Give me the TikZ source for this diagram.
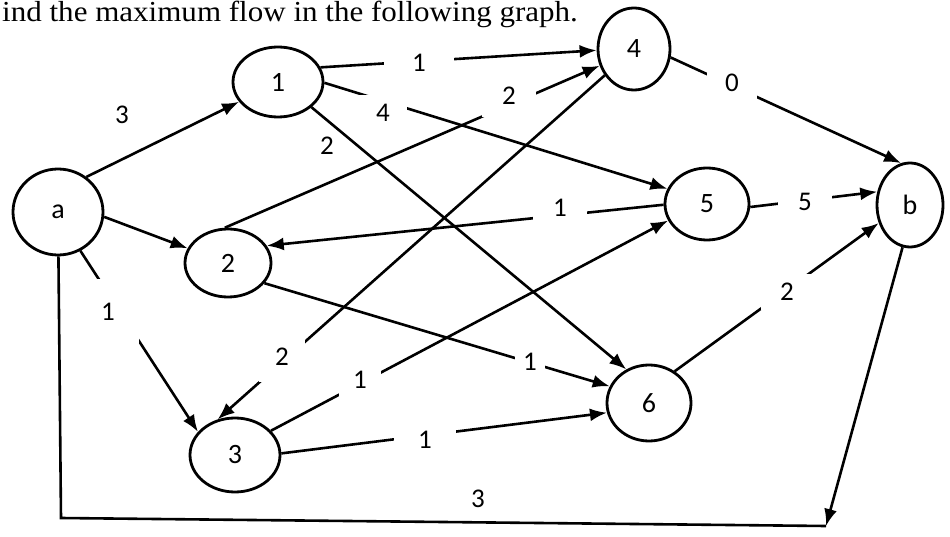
\documentclass[tikz,border=0pt]{standalone}
\usepackage{fontspec}
\setmainfont{Liberation Serif}
\newfontfamily\labfont{Carlito}
\usetikzlibrary{shapes.geometric,arrows.meta}
\begin{document}
\begin{tikzpicture}[x=1pt,y=-1pt,
  vert/.style={ellipse,draw,line width=2.8pt,inner sep=0pt,font=\labfont\fontsize{28}{28}\selectfont},
  edge/.style={line width=2.6pt},
  arr/.style={edge,-{Latex[length=17pt,width=13pt]}},
  lbl/.style={font=\labfont\fontsize{27}{27}\selectfont,fill=white}]
\useasboundingbox (0,0) rectangle (950,537);
\fill[white] (0,0) rectangle (950,537);
\node[anchor=base west,inner sep=0pt,font=\fontsize{29}{29}\selectfont] (title) at (2,22) {\scalebox{1.07}[1]{ind the maximum flow in the following graph.}};
% vertices
\node[vert,minimum width=90pt,minimum height=86pt] (a) at (58,212) {a};
\node[vert,minimum width=90pt,minimum height=70pt] (n1) at (278,82) {1};
\node[vert,minimum width=86pt,minimum height=68pt] (n2) at (228,263) {2};
\node[vert,minimum width=90pt,minimum height=74pt] (n3) at (235,455) {3};
\node[vert,minimum width=72pt,minimum height=82pt] (n4) at (634,49) {4};
\node[vert,minimum width=84pt,minimum height=72pt] (n5) at (707,204) {5};
\node[vert,minimum width=84pt,minimum height=76pt] (n6) at (649,403) {6};
\node[vert,minimum width=66pt,minimum height=84pt] (b) at (910,205) {b};
% edges
\draw[arr] (a.51) -- (n1.207);
\draw[arr] (a.354) -- (n2.160);
\draw[arr] (a.300) -- (n3.148);
\draw[arr] (n1.19) -- (n4.182);
\draw[arr] (n1.359) -- (n5.159);
\draw[arr] (n1.323) -- (n6.124);
\draw[arr] (n2.95) -- (n4.206);
\draw[arr] (n5.181) -- (n2.24);
\draw[arr] (n2.331) -- (n6.157);
\draw[arr] (n4.222) -- (n3.116);
\draw[arr] (n3.34) -- (n5.203);
\draw[arr] (n3.2) -- (n6.193);
\draw[arr] (n4.347) -- (b.102);
\draw[arr] (n5.356) -- (b.158);
\draw[arr] (n6.51) -- (b.210);
\coordinate (cl) at (61,518);
\coordinate (cr) at (826,526);
\draw[edge] (a) -- (cl) -- (cr);
\draw[arr] (b.260) -- (cr);
% labels
\node[lbl,fill=none,inner sep=2pt] (la1) at (122,115) {3};
\node[lbl,inner sep=24pt] (la3) at (108,312) {1};
\node[lbl,inner xsep=28pt,inner ysep=4pt] (l14) at (419,63) {1};
\node[lbl,inner xsep=17pt,inner ysep=9pt] (l15) at (383,113) {4};
\node[lbl,fill=none,inner sep=2pt] (l16) at (327,146) {2};
\node[lbl,inner xsep=20pt,inner ysep=12pt] (l24) at (509,96) {2};
\node[lbl,inner xsep=20pt,inner ysep=8pt] (l52) at (560,208) {1};
\node[lbl,inner xsep=8pt,inner ysep=4pt] (l26) at (530,362) {1};
\node[lbl,inner sep=16pt] (l43) at (282,357) {2};
\node[lbl,inner sep=14pt] (l35) at (360,380) {1};
\node[lbl,inner xsep=24pt,inner ysep=4pt] (l36) at (425,440) {1};
\node[lbl,inner xsep=18pt,inner ysep=7pt] (l4b) at (732,83) {0};
\node[lbl,inner xsep=20pt,inner ysep=4pt] (l5b) at (805,202) {5};
\node[lbl,inner xsep=19pt,inner ysep=9pt] (l6b) at (787,292) {2};
\node[lbl,fill=none,inner sep=2pt] (lba) at (478,499) {3};
\end{tikzpicture}
\end{document}
